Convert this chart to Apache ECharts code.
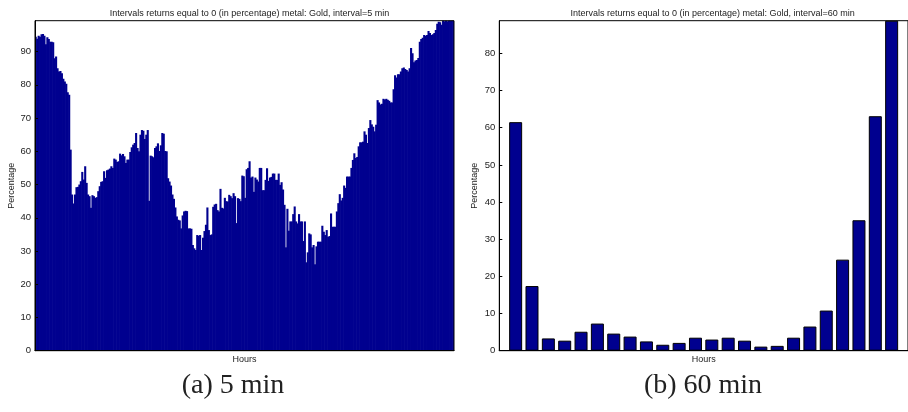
<!DOCTYPE html>
<html>
<head>
<meta charset="utf-8">
<script src="https://cdn.jsdelivr.net/npm/echarts@6/dist/echarts.min.js"></script>
<style>html,body{margin:0;padding:0;background:#fff;}#c{width:908px;height:412px;}</style>
</head>
<body>
<div id="c"></div>
<script>
// 5-min intervals: percentage of returns equal to 0 (288 intervals over the day)
const fiveMinPart1 = [94.5,93.9,94.8,94.5,95.2,95.3,94.8,92.2,94.3,93.8,93,93,92.8,88,88.5,85,84,84.2,83.5,81.8,81,80.3,77.8,77,60.5,
  47,44.3,47,49.2,49.3,50,51,53.8,51.5,55.5,50.5,47,46.5,43,46.8,46.5,46,46.2,48,49.5,50.8,51,54,52,54.3,
  54.5,54.8,55.5,55,57.8,57.5,56.8,57,59.3,58.8,59.2,58.5,56.5,57.5,57.5,59.8,61.2,62,62.5,65.5,61];
const fiveMinPart2 = [60,65,66.4,66.2,63.7,65,66.4,45.1,58.7,58.5,58.2,61,61.5,62.4,60.1,61.8,65.5,65.3,60.1,60,51.9,50.9,49.7,47,45.7,43.1,40.4,39.4,39.2,
  36.8,40.7,41.9,42.1,42,36.8,36.8,36.7,31.8,30.8,30.3,34.8,34.6,34.8,30.3,34,36,37.9,43.1,36.3,34.8,35,43.3,44,44.2,
  42.3,41.9,48.7,43,42.8,46,45,44.9,46.9,46.5,45.9,47.4,46.5,38.4,45.9,45.7,45,52.7,52.5,46];
const fiveMinPart3 = [54.6,55,57,52.1,52.4,47.8,52.1,51.5,50.9,55,55,48.3,48.3,51.4,54.9,51.1,52.1,52.3,53.3,53.3,51.4,51.4,53.3,49.9,50.7,
  48.5,43.9,31.1,42.7,36.1,38.9,38.9,41.1,43.4,38.9,38.3,41.1,38.9,38.9,33,38.9,26.6,29.6,35.3,35,31.1,31.8,26,31.4,32.8,
  32.8,32.8,37.6,35.8,34.8,36.3,34.3,34.5,41.3,37.3,37.3,37.3,41.9,44.4,47.1,45.2,46,49.7,49,52.4,52.4,52.4];
const fiveMinPart4 = [55,57.4,59.4,58,58.3,61.5,62.7,62.7,62.9,66,65,62.5,67,69.4,68.1,67.4,66,68,75.4,74.7,
  74.1,74.3,75.8,75.6,75.8,75.5,75.2,74.7,74.7,78.7,82.9,82.2,83.2,83.2,84,85,85.2,84.8,84.5,84,
  85,91.1,89.5,86.8,87.3,87.5,88.1,93,93.8,94.2,95,94.8,95,96.2,95.6,95,95.2,95.6,96.5,98.4,
  99,98.8,98.1,99.3,99.1,99.3,99.1,99.3,99.3,99.3,99.3];
const fiveMinValues = fiveMinPart1.concat(fiveMinPart2, fiveMinPart3, fiveMinPart4);
const fiveMinCategories = fiveMinValues.map((_, i) => String(i + 1));

// 60-min intervals (24 hours)
const hourPositions = [1,2,3,4,5,6,7,8,9,10,11,12,13,14,15,16,17,18,19,20,21,22,23,24];
const sixtyMinValues = [61.5,17.4,3.3,2.7,5.1,7.3,4.6,3.8,2.5,1.6,2.1,3.5,3.0,3.5,2.7,1.1,1.3,3.5,6.5,10.8,24.5,35.1,63.1,88.8];

const titleLeft = 'Intervals returns equal to 0 (in percentage) metal: Gold, interval=5 min';
const titleRight = 'Intervals returns equal to 0 (in percentage) metal: Gold, interval=60 min';
const yName = 'Percentage';
const xName = 'Hours';
const captions = ['(a) 5 min', '(b) 60 min'];

const BAR = '#00008F';
const TXT = '#222';
const FONT = 'Liberation Sans';

const chart = echarts.init(document.getElementById('c'), null, {renderer: 'canvas'});
const yAxisCommon = {
  type: 'value', min: 0, interval: 10,
  splitLine: {show: false},
  axisLine: {show: true, lineStyle: {color: '#000', width: 1}},
  axisTick: {show: true, inside: true, length: 3, lineStyle: {color: '#000'}},
  axisLabel: {color: TXT, fontSize: 9.5, fontFamily: FONT, margin: 4, showMaxLabel: false},
  nameLocation: 'middle', nameRotate: 90,
  nameTextStyle: {color: TXT, fontSize: 9, fontFamily: FONT},
  z: 10
};
chart.setOption({
  animation: false,
  backgroundColor: '#fff',
  title: [
    {text: titleLeft, left: 244.5, top: 4, textAlign: 'center', textStyle: {color: TXT, fontSize: 9, fontWeight: 'normal', fontFamily: FONT}},
    {text: titleRight, left: 707.6, top: 4, textAlign: 'center', textStyle: {color: TXT, fontSize: 9, fontWeight: 'normal', fontFamily: FONT}}
  ],
  grid: [
    {left: 35, top: 20.7, width: 419, height: 330, show: true, borderColor: '#000', borderWidth: 1, backgroundColor: 'transparent', z: 10},
    {left: 499.3, top: 20.7, width: 417, height: 330, show: true, borderColor: '#000', borderWidth: 1, backgroundColor: 'transparent', z: 10}
  ],
  xAxis: [
    {gridIndex: 0, type: 'category', data: fiveMinCategories, boundaryGap: true,
     axisLine: {show: true, lineStyle: {color: '#000', width: 1.2}}, axisTick: {show: false}, axisLabel: {show: false},
     name: xName, nameLocation: 'middle', nameGap: 4, nameTextStyle: {color: TXT, fontSize: 9, fontFamily: FONT, verticalAlign: 'top'}, z: 10},
    {gridIndex: 1, type: 'value', min: 0, max: 25, splitLine: {show: false},
     axisLine: {show: true, lineStyle: {color: '#000', width: 1.2}}, axisTick: {show: false}, axisLabel: {show: false},
     name: xName, nameLocation: 'middle', nameGap: 4, nameTextStyle: {color: TXT, fontSize: 9, fontFamily: FONT, verticalAlign: 'top'}, z: 10}
  ],
  yAxis: [
    Object.assign({}, yAxisCommon, {gridIndex: 0, max: 99.3, name: yName, nameGap: 19}),
    Object.assign({}, yAxisCommon, {gridIndex: 1, max: 88.8, name: yName, nameGap: 20})
  ],
  series: [
    {type: 'bar', xAxisIndex: 0, yAxisIndex: 0, data: fiveMinValues, barWidth: 2.1,
     itemStyle: {color: BAR, borderWidth: 0}, large: false, z: 2},
    {type: 'bar', xAxisIndex: 1, yAxisIndex: 1, data: hourPositions.map((h, i) => [h, sixtyMinValues[i]]), barWidth: 13,
     itemStyle: {color: BAR, borderColor: '#000', borderWidth: 1}, z: 2}
  ],
  graphic: [
    {type: 'text', style: {text: captions[0], fontFamily: 'Liberation Serif', fontSize: 28, fill: '#222', x: 233, y: 386, textAlign: 'center', textVerticalAlign: 'middle'}},
    {type: 'text', style: {text: captions[1], fontFamily: 'Liberation Serif', fontSize: 28, fill: '#222', x: 703, y: 386, textAlign: 'center', textVerticalAlign: 'middle'}}
  ]
});
</script>
</body>
</html>
